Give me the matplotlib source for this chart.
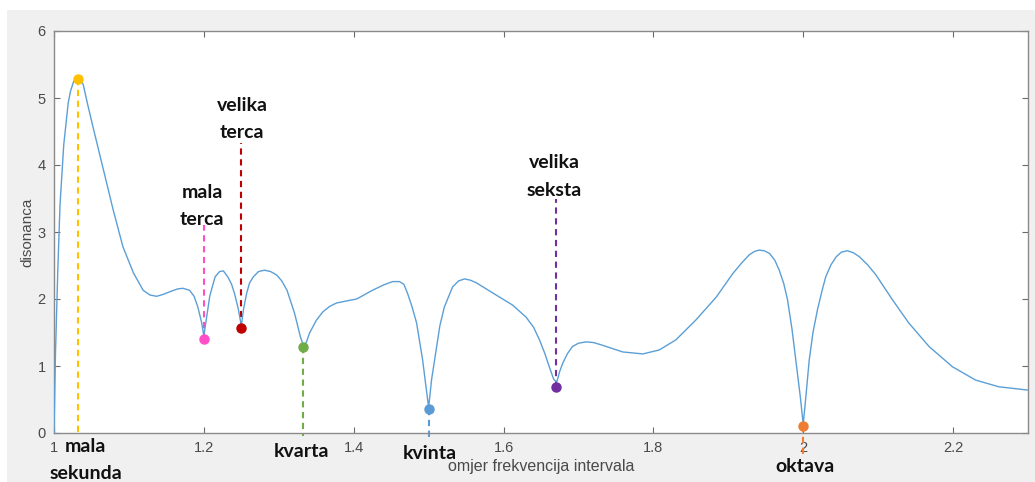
import matplotlib
matplotlib.use("Agg")
import matplotlib.pyplot as plt
from matplotlib.patches import Rectangle

# ---- data ----
curve_x = [1.000, 1.002, 1.005, 1.008, 1.013, 1.019, 1.022, 1.026, 1.029, 1.032,
           1.035, 1.039, 1.045, 1.052, 1.059, 1.066, 1.079, 1.092, 1.106, 1.119,
           1.128, 1.137, 1.146, 1.155, 1.165, 1.172, 1.181, 1.187, 1.192, 1.197,
           1.200, 1.204, 1.208, 1.215, 1.221, 1.226, 1.232, 1.237, 1.241, 1.246,
           1.250, 1.253, 1.257, 1.261, 1.266, 1.273, 1.281, 1.289, 1.297, 1.304,
           1.311, 1.321, 1.329, 1.333, 1.337, 1.341, 1.350, 1.359, 1.368, 1.377,
           1.390, 1.404, 1.425, 1.440, 1.452, 1.461, 1.467, 1.472, 1.478, 1.484,
           1.492, 1.497, 1.500, 1.504, 1.510, 1.515, 1.521, 1.532, 1.540, 1.548,
           1.556, 1.564, 1.577, 1.590, 1.612, 1.630, 1.640, 1.648, 1.655, 1.661,
           1.667, 1.671, 1.675, 1.679, 1.685, 1.692, 1.700, 1.710, 1.720, 1.732,
           1.759, 1.786, 1.808, 1.830, 1.857, 1.884, 1.906, 1.918, 1.928, 1.935,
           1.941, 1.948, 1.955, 1.962, 1.968, 1.974, 1.979, 1.985, 1.990, 1.996,
           2.000, 2.004, 2.008, 2.013, 2.019, 2.025, 2.030, 2.037, 2.044, 2.051,
           2.059, 2.067, 2.075, 2.086, 2.097, 2.119, 2.141, 2.168, 2.199, 2.230,
           2.261, 2.300]
curve_y = [0.00, 1.20, 2.40, 3.40, 4.30, 4.93, 5.10, 5.24, 5.29, 5.30,
           5.28, 5.20, 4.90, 4.57, 4.25, 3.93, 3.33, 2.78, 2.39, 2.13,
           2.06, 2.04, 2.07, 2.11, 2.15, 2.16, 2.13, 2.04, 1.88, 1.65,
           1.45, 1.75, 2.05, 2.33, 2.41, 2.42, 2.33, 2.22, 2.08, 1.85,
           1.60, 1.85, 2.08, 2.24, 2.33, 2.41, 2.43, 2.41, 2.36, 2.27,
           2.13, 1.79, 1.43, 1.30, 1.36, 1.49, 1.68, 1.81, 1.89, 1.94,
           1.97, 2.00, 2.13, 2.21, 2.26, 2.26, 2.22, 2.08, 1.88, 1.64,
           1.09, 0.65, 0.38, 0.80, 1.24, 1.60, 1.88, 2.18, 2.27, 2.30,
           2.28, 2.24, 2.15, 2.06, 1.91, 1.73, 1.58, 1.39, 1.19, 0.99,
           0.80, 0.76, 0.92, 1.04, 1.18, 1.29, 1.34, 1.36, 1.35, 1.31,
           1.21, 1.18, 1.24, 1.39, 1.69, 2.03, 2.38, 2.54, 2.66, 2.71,
           2.73, 2.72, 2.68, 2.58, 2.43, 2.23, 1.99, 1.55, 1.09, 0.55,
           0.13, 0.60, 1.09, 1.50, 1.84, 2.12, 2.33, 2.51, 2.63, 2.70,
           2.72, 2.69, 2.63, 2.51, 2.36, 1.99, 1.64, 1.29, 0.99, 0.79,
           0.69, 0.64]

interval_names = ["mala\nsekunda", "mala\nterca", "velika\nterca", "kvarta",
                  "kvinta", "velika\nseksta", "oktava"]
interval_x = [1.032, 1.200, 1.250, 1.3325, 1.501, 1.670, 2.000]
interval_y = [5.28, 1.41, 1.56, 1.28, 0.36, 0.69, 0.11]
interval_colors = ["#FFC000", "#FF4FC8", "#C00000", "#70AD47", "#5B9BD5",
                   "#7030A0", "#ED7D31"]
# dashed guide: other end (y) of each line
guide_end_y = [0.0, 3.10, 4.33, -0.04, -0.10, 3.50, -0.35]
# label positions (centre of the label block)
label_x = [1.042, 1.198, 1.251, 1.330, 1.502, 1.668, 2.003]
label_y = [-0.40, 3.39, 4.69, -0.28, -0.31, 3.83, -0.50]

x_ticks = [1, 1.2, 1.4, 1.6, 1.8, 2, 2.2]
x_ticklabels = ["1", "1.2", "1.4", "1.6", "1.8", "2", "2.2"]
y_ticks = [0, 1, 2, 3, 4, 5, 6]

# ---- figure ----
fig = plt.figure(figsize=(10.35, 4.82), dpi=100, facecolor="white")
fig.patches.append(Rectangle((7 / 1035, 0), 1, (482 - 10) / 482,
                             transform=fig.transFigure, facecolor="#f0f0f0",
                             edgecolor="none", zorder=-10))
ax = fig.add_axes([54 / 1035, (482 - 433) / 482, (1028 - 54) / 1035, (433 - 31) / 482])
ax.set_facecolor("white")

ax.plot(curve_x, curve_y, color="#5b9fd6", linewidth=1.0, zorder=3)

line_step = 0.41  # vertical distance between label lines, in data units
for name, xv, yv, c, ye, lx, ly in zip(interval_names, interval_x, interval_y,
                                       interval_colors, guide_end_y, label_x, label_y):
    ax.plot([xv, xv], [yv, ye], color=c, linestyle=(0, (3, 2.2)), linewidth=1.5,
            clip_on=False, zorder=2)
    ax.plot([xv], [yv], marker="o", markersize=6.5, color=c, clip_on=False, zorder=5)
    parts = name.split("\n")
    n = len(parts)
    for i, part in enumerate(parts):
        yy = ly + (n - 1) / 2 * line_step - i * line_step
        ax.text(lx, yy, part, ha="center", va="center", fontsize=14,
                fontweight="bold", family=["Lato", "DejaVu Sans"], color="#111111",
                clip_on=False, zorder=6)

ax.set_xlim(1, 2.3)
ax.set_ylim(0, 6)
ax.set_xticks(x_ticks)
ax.set_xticklabels(x_ticklabels)
ax.set_yticks(y_ticks)

tick_color = "#8a8a8a"
for s in ax.spines.values():
    s.set_color(tick_color)
    s.set_linewidth(1.0)
ax.tick_params(direction="in", length=4, width=0.8, color="#6a6a6a",
               top=True, right=True, labelsize=10.5, labelcolor="#4a4a4a", pad=6)
for lab in ax.get_xticklabels() + ax.get_yticklabels():
    lab.set_family(["Liberation Sans", "DejaVu Sans"])

ax.set_xlabel("omjer frekvencija intervala", fontsize=11.5, color="#4a4a4a",
              family=["Liberation Sans", "DejaVu Sans"], labelpad=3)
ax.set_ylabel("disonanca", fontsize=11, color="#4a4a4a",
              family=["Liberation Sans", "DejaVu Sans"], labelpad=2)

fig.savefig("out.png", dpi=100, facecolor=fig.get_facecolor())
